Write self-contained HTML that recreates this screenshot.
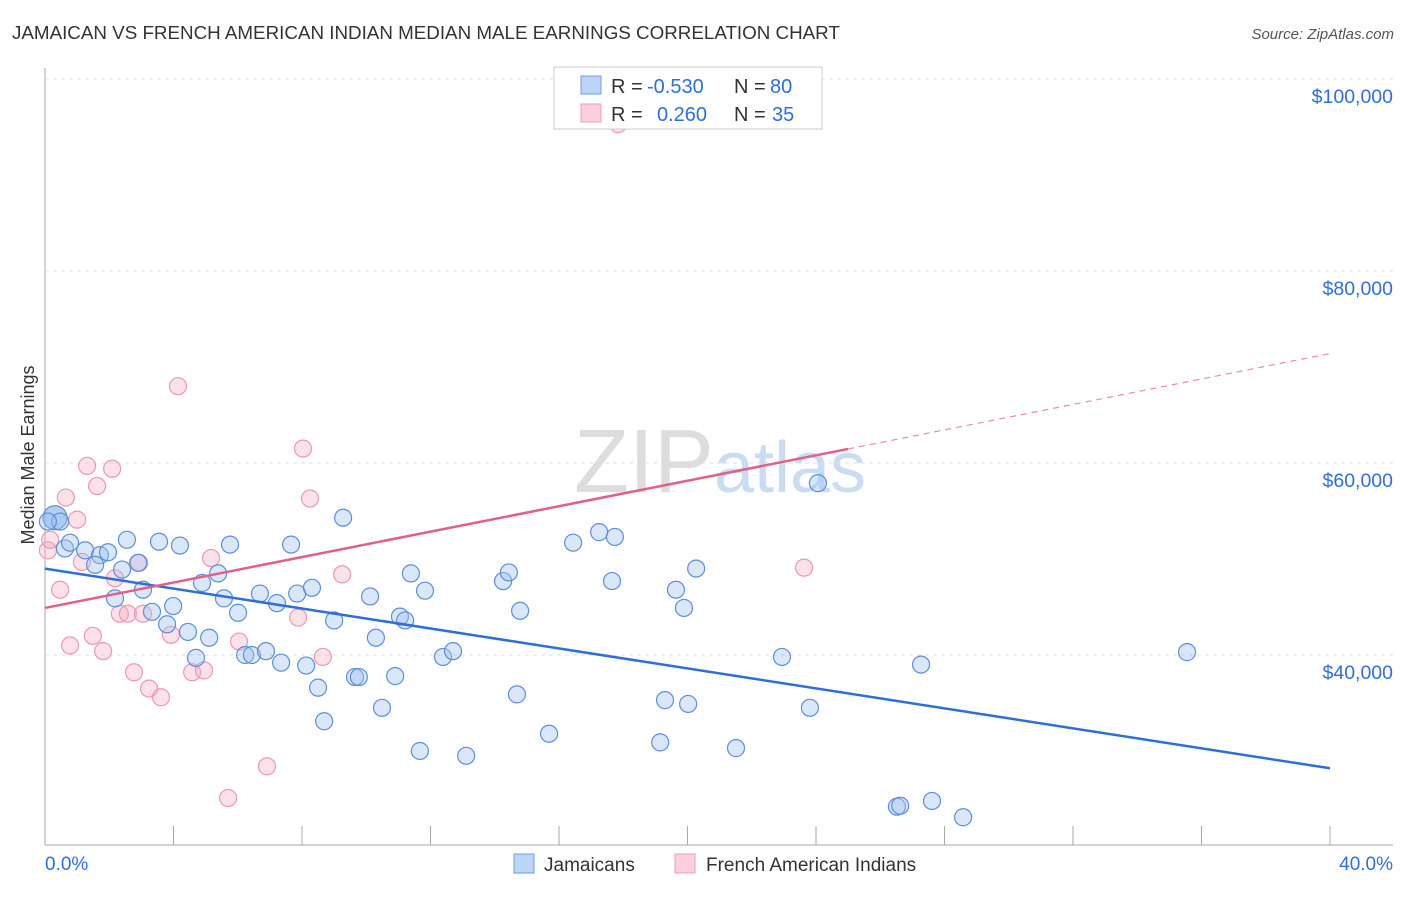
<!DOCTYPE html>
<html><head><meta charset="utf-8"><style>
body{margin:0;background:#fff;font-family:"Liberation Sans",sans-serif}
svg text{font-family:"Liberation Sans",sans-serif}
</style></head><body>
<svg id="chart" width="1406" height="892" viewBox="0 0 1406 892" xmlns="http://www.w3.org/2000/svg">
<text x="12" y="39" font-size="18.8" fill="#333">JAMAICAN VS FRENCH AMERICAN INDIAN MEDIAN MALE EARNINGS CORRELATION CHART</text>
<text x="1394" y="39" font-size="15" fill="#555" text-anchor="end" font-style="italic">Source: ZipAtlas.com</text>
<text x="34" y="455" font-size="18" fill="#333" text-anchor="middle" transform="rotate(-90 34 455)">Median Male Earnings</text>
<text x="720" y="492" font-size="90" fill="#ddd" text-anchor="middle" font-family="Liberation Serif">ZIP<tspan fill="#c9dcf2" font-family="Liberation Sans" font-size="72">atlas</tspan></text>
<g id="grid"></g><g id="axes"></g><g id="marks"></g>
<g>
<rect x="554" y="67" width="268" height="62" fill="#fff" stroke="#ccc"/>
<rect x="581" y="76" width="20" height="18" fill="#bcd4f5" stroke="#6f9be0"/>
<rect x="581" y="104" width="20" height="18" fill="#fbd0dc" stroke="#ee9db5"/>
<text x="611" y="93" font-size="20" fill="#333">R =</text>
<text x="647" y="93" font-size="20" fill="#2e6fd8">-0.530</text>
<text x="734" y="93" font-size="20" fill="#333">N =</text>
<text x="770" y="93" font-size="20" fill="#2e6fd8">80</text>
<text x="611" y="121" font-size="20" fill="#333">R =</text>
<text x="657" y="121" font-size="20" fill="#2e6fd8">0.260</text>
<text x="734" y="121" font-size="20" fill="#333">N =</text>
<text x="772" y="121" font-size="20" fill="#2e6fd8">35</text>
</g>
<g>
<rect x="514" y="854" width="20" height="19" fill="#bcd4f5" stroke="#6f9be0"/>
<text x="544" y="871" font-size="19" fill="#333">Jamaicans</text>
<rect x="675" y="854" width="20" height="19" fill="#fbd0dc" stroke="#ee9db5"/>
<text x="706" y="871" font-size="19" fill="#333">French American Indians</text>
</g>
</svg>
<script>
const blueX=[0.31,0.62,0.78,1.25,1.71,1.96,1.56,2.40,2.55,2.90,2.18,3.05,3.33,3.55,3.80,3.99,4.20,4.45,4.70,5.11,4.89,5.39,5.57,5.76,6.01,6.23,6.44,6.69,6.88,7.22,7.35,7.66,7.85,8.13,8.31,8.50,8.69,9.00,9.28,9.65,9.77,10.12,10.30,10.49,10.90,11.05,11.21,11.39,11.67,11.83,12.39,12.70,13.11,14.26,14.44,14.69,14.79,15.69,16.44,17.25,17.65,17.74,19.15,19.30,19.64,19.89,20.02,20.27,21.51,22.94,23.81,24.06,26.52,26.62,27.27,27.61,28.58,35.55,0.47,0.09];
const blueY=[54.3,51.1,51.7,50.9,50.4,50.7,49.4,48.9,52.0,49.6,45.9,46.8,44.5,51.8,43.2,45.1,51.4,42.4,39.7,41.8,47.5,48.5,45.9,51.5,44.4,40.0,40.0,46.4,40.4,45.4,39.2,51.5,46.4,38.9,47.0,36.6,33.1,43.6,54.3,37.7,37.7,46.1,41.8,34.5,37.8,44.0,43.6,48.5,30.0,46.7,39.8,40.4,29.5,47.7,48.6,35.9,44.6,31.8,51.7,52.8,47.7,52.3,30.9,35.3,46.8,44.9,34.9,49.0,30.3,39.8,34.5,57.9,24.2,24.3,39.0,24.8,23.1,40.3,53.9,53.9];
const pinkX=[0.09,0.16,0.47,0.65,0.78,1.0,1.15,1.31,1.49,1.62,1.81,2.09,2.18,2.33,2.58,2.77,2.93,3.05,3.24,3.61,3.92,4.58,4.95,5.17,5.70,6.04,6.91,7.88,8.03,8.25,8.65,9.25,17.84,23.63,4.14];
const pinkY=[50.9,52.0,46.8,56.4,41.0,54.1,49.7,59.7,42.0,57.6,40.4,59.4,48.0,44.3,44.3,38.2,49.6,44.3,36.5,35.6,42.1,38.2,38.4,50.1,25.1,41.4,28.4,43.9,61.5,56.3,39.8,48.4,95.3,49.1,68.0];
const blueTrend=[49.0,28.2];
const pinkTrend=[44.9,71.4];
const pinkSolidEnd=25.0;
const yTicks=[40,60,80,100];
const xTickLabels=["0.0%","40.0%"];

const NS="http://www.w3.org/2000/svg";
const sx=v=>45+v/40*1285;
const sy=v=>79+(100-v)*9.6;
function mk(tag,attrs,parent){const e=document.createElementNS(NS,tag);for(const k in attrs)e.setAttribute(k,attrs[k]);parent.appendChild(e);return e;}
const grid=document.getElementById('grid'),axes=document.getElementById('axes'),marks=document.getElementById('marks');
yTicks.forEach(t=>{
 const l=mk('line',{x1:45,x2:1393,y1:sy(t),y2:sy(t),stroke:'#ddd','stroke-dasharray':'4,4'},grid);
 
 
 const tx=mk('text',{x:1393,y:sy(t)+24,'font-size':19.5,fill:'#2e6fd8','text-anchor':'end'},axes);
 tx.textContent='$'+t+',000';
 
 
});
mk('line',{x1:45,x2:45,y1:68,y2:845,stroke:'#aaa'},axes);
mk('line',{x1:45,x2:1393,y1:845,y2:845,stroke:'#aaa'},axes);
for(let i=0;i<=10;i++){const x=sx(i*4);const t=mk('line',{x1:x,x2:x,y1:826,y2:845,stroke:'#aaa'},axes);
 
 }
const xl0=mk('text',{x:45,y:870,'font-size':19,fill:'#2e6fd8'},axes);xl0.textContent=xTickLabels[0];


const xl1=mk('text',{x:1393,y:870,'font-size':19,fill:'#2e6fd8','text-anchor':'end'},axes);xl1.textContent=xTickLabels[1];


pinkX.forEach((x,i)=>{const c=mk('circle',{cx:sx(x),cy:sy(pinkY[i]),r:8.5,fill:'rgba(245,170,192,0.35)',stroke:'#ec98b2','stroke-width':1.2},marks);
 
 });
blueX.forEach((x,i)=>{const big=i===0;const c=mk('circle',{cx:sx(x),cy:sy(blueY[i]),r:big?12:8.5,fill:big?'rgba(120,165,230,0.55)':'rgba(160,195,240,0.4)',stroke:'#5b8fd9','stroke-width':1.2},marks);
 
 });
const bl=mk('line',{x1:sx(0),y1:sy(blueTrend[0]),x2:sx(40),y2:sy(blueTrend[1]),stroke:'#2d6fd6','stroke-width':2.5},marks);


const pe=pinkTrend[0]+(pinkTrend[1]-pinkTrend[0])*pinkSolidEnd/40;
const pl=mk('line',{x1:sx(0),y1:sy(pinkTrend[0]),x2:sx(pinkSolidEnd),y2:sy(pe),stroke:'#e0608a','stroke-width':2.5},marks);


const pd=mk('line',{x1:sx(pinkSolidEnd),y1:sy(pe),x2:sx(40),y2:sy(pinkTrend[1]),stroke:'#e88aa8','stroke-width':1.2,'stroke-dasharray':'6,5'},marks);


</script>
</body></html>
